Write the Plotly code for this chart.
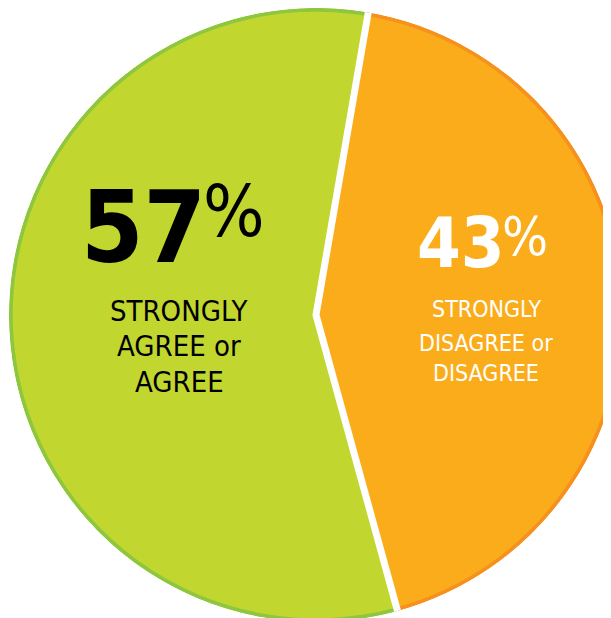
import plotly.graph_objects as go

# survey split
values = [43, 57]
label_lines = [
    ["STRONGLY", "DISAGREE or", "DISAGREE"],
    ["STRONGLY", "AGREE or", "AGREE"],
]
fill_colors = ["#FBAC1A", "#C1D62F"]
edge_colors = ["#F6901E", "#8DC63F"]
text_colors = ["white", "black"]

FONT = "DejaVu Sans Condensed, Liberation Sans Narrow, sans-serif"

# slice angles from the data (degrees, clockwise from the first boundary)
widths = [v * 360 / sum(values) for v in values]
starts = [sum(widths[:i]) for i in range(len(widths))]
mids = [s + w / 2 for s, w in zip(starts, widths)]

fig = go.Figure()

fig.add_trace(
    go.Barpolar(
        theta=mids,
        width=widths,
        r=[1] * len(values),
        marker=dict(color=fill_colors, line=dict(width=0)),
        hoverinfo="skip",
    )
)

# thin darker rim on each slice
fig.add_trace(
    go.Barpolar(
        theta=mids,
        width=widths,
        base=[0.988] * len(values),
        r=[0.012] * len(values),
        marker=dict(color=edge_colors, line=dict(width=0)),
        hoverinfo="skip",
    )
)

# white gap along the slice boundaries
fig.add_trace(
    go.Scatterpolar(
        theta=[starts[0], starts[0], starts[1]],
        r=[1, 0, 1],
        mode="lines",
        line=dict(color="white", width=7),
        hoverinfo="skip",
    )
)

# page body adds an 8px offset
OFF = 8
W, H = 624, 624
L, T = 1, 0
PW = PH = 614


def px(x):
    return (x - OFF - L) / PW


def py(y):
    return 1 - (y - OFF - T) / PH


annotations = []
big = [
    dict(x=507, num_y=243, pct_y=237, size=70, pct_size=54),
    dict(x=208, num_y=228, pct_y=211, size=100, pct_size=72),
]
lines_pos = [
    dict(x=486, ys=[309, 343, 373], size=23),
    dict(x=179, ys=[311, 346, 382], size=29),
]
for i, v in enumerate(values):
    b = big[i]
    annotations.append(dict(
        x=px(b["x"]), y=py(b["num_y"]), xref="paper", yref="paper",
        text="<b>%d</b>" % v, showarrow=False, xanchor="right", yanchor="middle",
        font=dict(family=FONT, size=b["size"], color=text_colors[i]),
    ))
    annotations.append(dict(
        x=px(b["x"] - 7), y=py(b["pct_y"]), xref="paper", yref="paper",
        text="%", showarrow=False, xanchor="left", yanchor="middle",
        font=dict(family=FONT, size=b["pct_size"], color=text_colors[i]),
    ))
    lp = lines_pos[i]
    for line, yy in zip(label_lines[i], lp["ys"]):
        annotations.append(dict(
            x=px(lp["x"]), y=py(yy), xref="paper", yref="paper",
            text=line, showarrow=False, xanchor="center", yanchor="middle",
            font=dict(family=FONT, size=lp["size"], color=text_colors[i]),
        ))

fig.update_layout(
    width=W,
    height=H,
    margin=dict(l=L, r=W - L - PW, t=T, b=H - T - PH),
    paper_bgcolor="white",
    plot_bgcolor="white",
    showlegend=False,
    polar=dict(
        domain=dict(x=[0, 1], y=[0, 1]),
        bgcolor="rgba(0,0,0,0)",
        angularaxis=dict(visible=False, direction="clockwise", rotation=80.2),
        radialaxis=dict(visible=False, range=[0, 1]),
    ),
    annotations=annotations,
)

fig.write_html("out.html")
